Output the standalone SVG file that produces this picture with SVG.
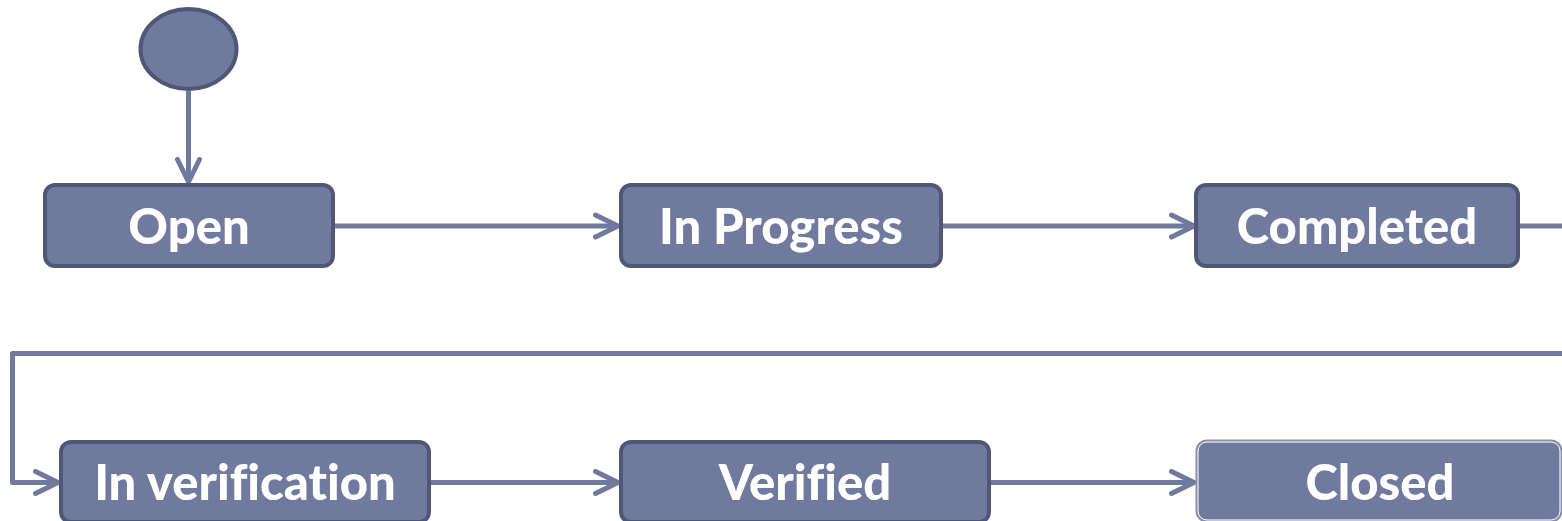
<svg xmlns="http://www.w3.org/2000/svg" width="1562" height="521" viewBox="0 0 1562 521">
  <style>
    .state { fill: #707A9F; stroke: #4E5776; stroke-width: 4; }
    .label { fill: #FFFFFF; font-family: Lato, "Open Sans", "Liberation Sans", sans-serif; font-weight: 900; font-size: 49px; text-anchor: middle; font-variant-ligatures: none; }
    .flow { fill: none; stroke: #707A9F; stroke-width: 5; stroke-linejoin: round; stroke-linecap: butt; }
  </style>
  <defs>
    <marker id="open-arrow" viewBox="0 0 28 28" refX="25" refY="14" markerWidth="28" markerHeight="28" markerUnits="userSpaceOnUse" orient="auto">
      <path d="M2.5,3 L25,14 L2.5,25" fill="none" stroke="#707A9F" stroke-width="5" stroke-linecap="round" stroke-linejoin="round"/>
    </marker>
  </defs>

  <g id="connectors">
    <path class="flow" d="M188.5,91 L188.5,182" marker-end="url(#open-arrow)"/>
    <path class="flow" d="M335,226 L618,226" marker-end="url(#open-arrow)"/>
    <path class="flow" d="M943,226 L1194,226" marker-end="url(#open-arrow)"/>
    <path class="flow" d="M1520,226 L1564,226"/>
    <path class="flow" d="M1564,353.5 L12.5,353.5 L12.5,482.5 L58,482.5" marker-end="url(#open-arrow)"/>
    <path class="flow" d="M431,482.5 L618,482.5" marker-end="url(#open-arrow)"/>
    <path class="flow" d="M991,482.5 L1194,482.5" marker-end="url(#open-arrow)"/>
  </g>

  <g id="start">
    <ellipse class="state" cx="188.5" cy="49" rx="48" ry="40"/>
  </g>

  <g id="open">
    <rect class="state" x="45" y="185" width="288" height="81" rx="10"/>
    <text class="label" x="189" y="244">Open</text>
  </g>

  <g id="in-progress">
    <rect class="state" x="621" y="185" width="320" height="81" rx="10"/>
    <text class="label" x="781" y="244">In Progress</text>
  </g>

  <g id="completed">
    <rect class="state" x="1196" y="185" width="322" height="81" rx="10"/>
    <text class="label" x="1357" y="244">Completed</text>
  </g>

  <g id="in-verification">
    <rect class="state" x="61" y="442" width="368" height="80" rx="10"/>
    <text class="label" x="245" y="500">In verification</text>
  </g>

  <g id="verified">
    <rect class="state" x="621" y="442" width="368" height="80" rx="10"/>
    <text class="label" x="805" y="500">Verified</text>
  </g>

  <g id="closed">
    <rect x="1197" y="441" width="364" height="80" rx="10" fill="#707A9F" stroke="#8A8FA6" stroke-width="3"/>
    <rect x="1198" y="442" width="362" height="78" rx="9" fill="none" stroke="#FFFFFF" stroke-width="1"/>
    <text class="label" x="1380" y="500">Closed</text>
  </g>
</svg>
